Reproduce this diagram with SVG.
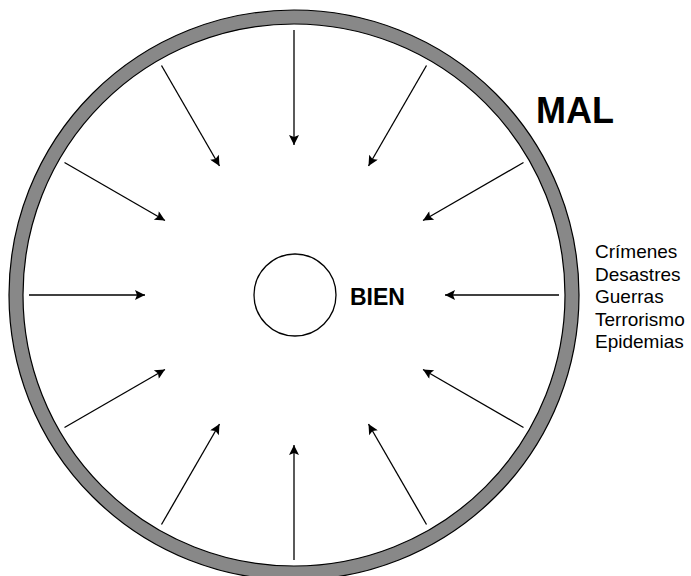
<svg xmlns="http://www.w3.org/2000/svg" width="691" height="576" viewBox="0 0 691 576">
<defs>
<marker id="ah" viewBox="0 0 10 10" refX="10" refY="5" markerWidth="11" markerHeight="10" markerUnits="userSpaceOnUse" orient="auto">
<path d="M0,0 L10,5 L0,10 L2,5 Z" fill="#000"/>
</marker>
</defs>
<style>
.conn line{stroke:#000;stroke-width:1.3;marker-end:url(#ah)}
.lbl{font-family:"Liberation Sans",Arial,sans-serif;fill:#000}
.b{font-weight:bold}
</style>
<rect width="691" height="576" fill="#fff"/>
<g id="mal">
<circle cx="294" cy="295" r="278" fill="none" stroke="#888" stroke-width="14"/>
<circle cx="294" cy="295" r="285" fill="none" stroke="#000" stroke-width="1.2"/>
<circle cx="294" cy="295" r="271" fill="none" stroke="#000" stroke-width="1.2"/>
<text class="lbl b" x="536" y="123" font-size="36">MAL</text>
</g>
<g id="bien">
<circle cx="295" cy="295" r="41" fill="#fff" stroke="#000" stroke-width="1.3"/>
<text class="lbl b" x="350" y="305" font-size="23">BIEN</text>
</g>
<g id="lista" class="lbl" font-size="19">
<text x="595" y="258">Crímenes</text>
<text x="595" y="280.5">Desastres</text>
<text x="595" y="303">Guerras</text>
<text x="595" y="325.5">Terrorismo</text>
<text x="595" y="348">Epidemias</text>
</g>
<g id="connectors" class="conn">
<line x1="294" y1="30" x2="294" y2="145"/>
<line x1="426.5" y1="65.5" x2="368.5" y2="166"/>
<line x1="523.5" y1="162.5" x2="423" y2="220.5"/>
<line x1="559" y1="295" x2="445" y2="295"/>
<line x1="523.5" y1="427.5" x2="423" y2="369.5"/>
<line x1="426.5" y1="524.5" x2="368.5" y2="424"/>
<line x1="294" y1="560" x2="294" y2="445"/>
<line x1="161.5" y1="524.5" x2="219.5" y2="424"/>
<line x1="64.5" y1="427.5" x2="165" y2="369.5"/>
<line x1="29" y1="295" x2="145" y2="295"/>
<line x1="64.5" y1="162.5" x2="165" y2="220.5"/>
<line x1="161.5" y1="65.5" x2="219.5" y2="166"/>
</g>
</svg>
